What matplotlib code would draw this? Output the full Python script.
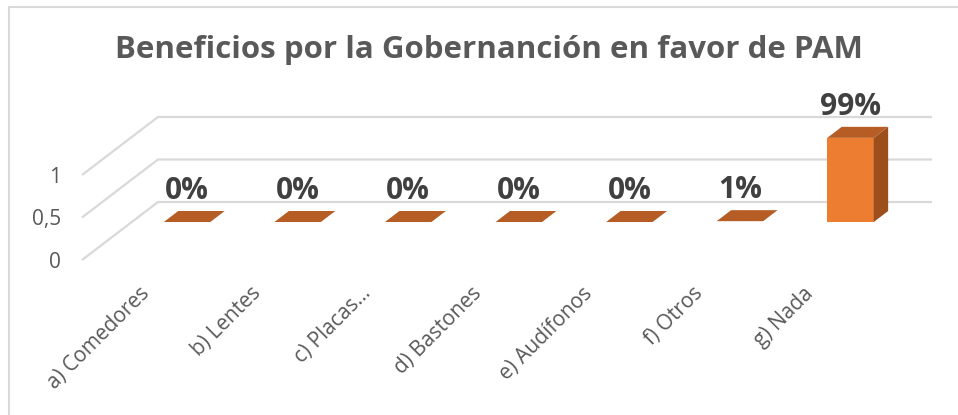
import matplotlib
matplotlib.use("Agg")
import matplotlib.pyplot as plt
from matplotlib.patches import Polygon

plt.rcParams['font.family'] = ['Open Sans', 'DejaVu Sans']

title = "Beneficios por la Gobernanción en favor de PAM"
categories = ["a) Comedores", "b) Lentes", "c) Placas...", "d) Bastones",
              "e) Audífonos", "f) Otros", "g) Nada"]
values = [0.0, 0.0, 0.0, 0.0, 0.0, 0.01, 0.99]
labels = ["0%", "0%", "0%", "0%", "0%", "1%", "99%"]
yticks = [0, 0.5, 1]
ytick_labels = ["0", "0,5", "1"]

# oblique 3d look: depth offset in data units
DX = 0.687
DY = 0.682
d0, d1 = 0.655, 0.845   # bar depth span (fraction of floor depth)
bw = 0.42

grid_c = "#d9d9d9"
front_c = "#ed7d31"
side_c = "#9c4f1d"
top_c = "#b55d24"

W, H = 958, 415
fig = plt.figure(figsize=(W / 100, H / 100), dpi=100)
ax = fig.add_axes([82 / W, (H - 260) / H, 850 / W, 143 / H])
n = len(categories)
ax.set_xlim(0, n + DX)
ax.set_ylim(0, 1 + DY)
for s in ax.spines.values():
    s.set_visible(False)

# gridlines: slanted side wall + back wall
for v in yticks:
    ax.plot([0, DX, n + DX], [v, v + DY, v + DY], color=grid_c, lw=1.6,
            solid_capstyle='butt', zorder=1, clip_on=False)

for i, val in enumerate(values):
    x0 = i + 0.5 - bw / 2 + d0 * DX
    x1 = x0 + bw
    yb = d0 * DY
    yt = yb + val
    ddx = (d1 - d0) * DX
    ddy = (d1 - d0) * DY
    if val > 0.02:
        ax.add_patch(Polygon([(x0, yb), (x1, yb), (x1, yt), (x0, yt)],
                             closed=True, fc=front_c, ec='none', zorder=3))
        ax.add_patch(Polygon([(x1, yb), (x1 + ddx, yb + ddy), (x1 + ddx, yt + ddy), (x1, yt)],
                             closed=True, fc=side_c, ec='none', zorder=3))
    ax.add_patch(Polygon([(x0, yt), (x1, yt), (x1 + ddx, yt + ddy), (x0 + ddx, yt + ddy)],
                         closed=True, fc=top_c, ec='none', zorder=4))
    ax.annotate(labels[i], (i + 0.5 + d0 * DX, yt + ddy), xytext=(0, 8.5),
                textcoords='offset points', ha='center', va='baseline',
                fontsize=21.5, fontweight='bold', color='#404040',
                annotation_clip=False, zorder=5)
    ax.annotate(categories[i], (i + 0.5, 0), xytext=(7, -22),
                textcoords='offset points', ha='right', va='center',
                rotation=45, rotation_mode='anchor', fontsize=15,
                color='#595959', annotation_clip=False)

ax.set_xticks([])
ax.set_yticks(yticks)
ax.set_yticklabels(ytick_labels, fontsize=15, color='#595959')
ax.tick_params(axis='y', length=0, pad=15)

fig.text(489 / W, 1 - 50 / H, title, ha='center', va='center',
         fontsize=22.5, fontweight='bold', color='#595959')

# chart border (top and left visible)
fig.add_artist(plt.Line2D([9 / W, 9 / W, 1], [0, 1 - 7 / H, 1 - 7 / H],
                          transform=fig.transFigure, color='#d9d9d9', lw=1.5))

fig.savefig("out.png", dpi=100)
